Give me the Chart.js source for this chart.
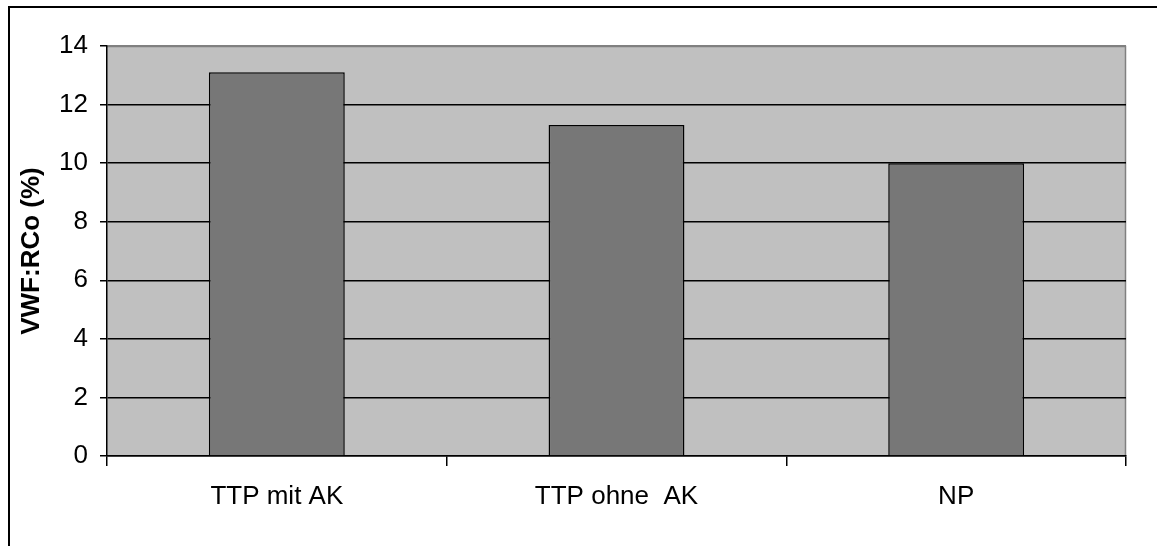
<!DOCTYPE html>
<html>
<head>
<meta charset="utf-8">
<script src="https://cdn.jsdelivr.net/npm/chart.js@4/dist/chart.umd.min.js"></script>
<style>
  html, body { margin: 0; padding: 0; background: #fff; overflow: hidden; }
  #c { display: block; width: 1157px; height: 546px; }
</style>
</head>
<body>
<canvas id="c" width="1157" height="546"></canvas>
<script>
// Categories and measured VWF:RCo values (%)
const categories = ['TTP mit AK', 'TTP ohne  AK', 'NP'];
const vwfRco = [13.1, 11.3, 10.0];
const yTicks = [0, 2, 4, 6, 8, 10, 12, 14];
const yTitle = 'VWF:RCo (%)';

const FONT = '"Liberation Sans", Arial, sans-serif';

// Grey plot background, grey top/right plot edge and the outer page frame
const framePlugin = {
  id: 'frame',
  beforeDraw(chart) {
    const { ctx, chartArea: a } = chart;
    ctx.save();
    ctx.fillStyle = '#ffffff';
    ctx.fillRect(0, 0, chart.width, chart.height);
    ctx.fillStyle = '#C0C0C0';
    ctx.fillRect(a.left, a.top, a.right - a.left, a.bottom - a.top);
    ctx.strokeStyle = '#808080';
    ctx.lineWidth = 1.5;
    ctx.beginPath();
    ctx.moveTo(a.left, a.top + 0.5);
    ctx.lineTo(a.right - 0.5, a.top + 0.5);
    ctx.lineTo(a.right - 0.5, a.bottom);
    ctx.stroke();
    ctx.strokeStyle = '#000000';
    ctx.lineWidth = 2;
    ctx.beginPath();
    ctx.moveTo(9, chart.height);
    ctx.lineTo(9, 7);
    ctx.lineTo(chart.width, 7);
    ctx.stroke();
    ctx.restore();
  }
};

new Chart(document.getElementById('c'), {
  type: 'bar',
  data: {
    labels: categories,
    datasets: [{
      data: vwfRco,
      backgroundColor: '#777777',
      borderColor: '#000000',
      borderWidth: 1.5,
      barPercentage: 0.4,
      categoryPercentage: 1.0
    }]
  },
  options: {
    responsive: false,
    devicePixelRatio: 1,
    animation: false,
    layout: { padding: { left: 0, right: 31, top: 46, bottom: 0 } },
    plugins: {
      legend: { display: false },
      tooltip: { enabled: false }
    },
    scales: {
      x: {
        type: 'category',
        offset: true,
        grid: {
          offset: true,
          drawOnChartArea: false,
          drawTicks: true,
          tickLength: 10,
          color: '#000000',
          lineWidth: 1.5
        },
        border: { display: true, color: '#000000', width: 1.5 },
        ticks: {
          color: '#000000',
          padding: 15,
          maxRotation: 0,
          font: { family: FONT, size: 26 }
        },
        afterFit(scale) { scale.height = 90; }
      },
      y: {
        min: 0,
        max: 14,
        afterBuildTicks(scale) { scale.ticks = yTicks.map(v => ({ value: v })); },
        grid: {
          color: ctx => (ctx.tick && ctx.tick.value === 14 ? '#808080' : '#000000'),
          tickColor: '#000000',
          lineWidth: 1.5,
          tickLength: 7,
          drawTicks: true
        },
        border: { display: true, color: '#000000', width: 1.5 },
        ticks: {
          color: '#000000',
          padding: 12,
          font: { family: FONT, size: 26 }
        },
        title: {
          display: true,
          text: yTitle,
          color: '#000000',
          padding: { top: 16, bottom: 0 },
          font: { family: FONT, size: 26, weight: 'bold' }
        },
        afterFit(scale) { scale.width = 107; }
      }
    }
  },
  plugins: [framePlugin]
});
</script>
</body>
</html>
